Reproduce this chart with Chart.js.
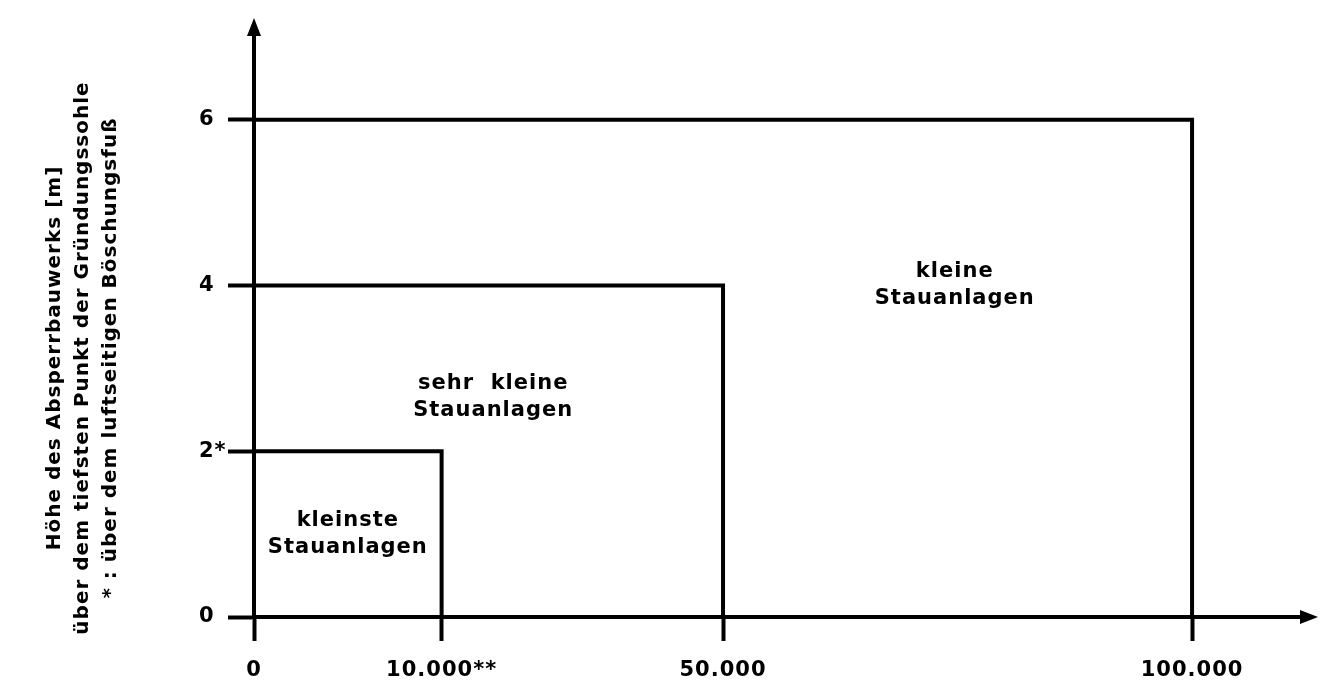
<!DOCTYPE html>
<html>
<head>
<meta charset="utf-8">
<script src="https://cdn.jsdelivr.net/npm/chart.js@4.4.1/dist/chart.umd.min.js"></script>
<style>
  html, body { margin: 0; padding: 0; background: #fff; }
  #wrap { width: 1331px; height: 690px; position: relative; }
</style>
</head>
<body>
<div id="wrap"><canvas id="c" width="1331" height="690"></canvas></div>
<script>
// ---- data ----
const volumeLabels = ['0', '10.000**', '50.000', '100.000'];   // x tick labels (reservoir volume)
const volumePositions = [0, 2, 5, 10];                          // schematic axis positions of those volumes
const heightTicks = [0, 2, 4, 6];                               // y tick values [m]
const heightLabels = ['0', '2*', '4', '6'];
const classVolumeIndex = [1, 2, 3];                             // each class bounded by this volume tick
const classHeights = [2, 4, 6];                                 // each class bounded by this height [m]
const classNames = [['kleinste', 'Stauanlagen'], ['sehr  kleine', 'Stauanlagen'], ['kleine', 'Stauanlagen']];
const classLabelX = [1.0, 2.55, 7.47];
const classLabelY = [1.0, 2.65, 4.0];
const yTitle = ['Höhe des Absperrbauwerks [m]', 'über dem tiefsten Punkt der Gründungssohle', '* : über dem luftseitigen Böschungsfuß'];

const FONT = '"DejaVu Sans", sans-serif';

const datasets = classHeights.map((h, i) => ({
  label: classNames[i].join(' '),
  data: [
    { x: 0, y: h },
    { x: volumePositions[classVolumeIndex[i]], y: h },
    { x: volumePositions[classVolumeIndex[i]], y: 0 }
  ],
  borderColor: '#000',
  borderWidth: 4,
  pointRadius: 0,
  fill: false,
  tension: 0,
  borderCapStyle: 'butt',
  borderJoinStyle: 'miter'
}));

const decor = {
  id: 'decor',
  beforeUpdate(chart) { chart.ctx.letterSpacing = '1px'; },
  beforeDraw(chart) { chart.ctx.letterSpacing = '1px'; },
  afterDraw(chart) {
    const ctx = chart.ctx;
    const xs = chart.scales.x, ys = chart.scales.y;
    const ca = chart.chartArea;
    const x0 = xs.getPixelForValue(0), y0 = ys.getPixelForValue(0);
    ctx.save();
    ctx.fillStyle = '#000';
    // arrow heads
    ctx.beginPath();
    ctx.moveTo(x0, ca.top - 10);
    ctx.lineTo(x0 - 7, ca.top + 8);
    ctx.lineTo(x0 + 7, ca.top + 8);
    ctx.closePath(); ctx.fill();
    ctx.beginPath();
    ctx.moveTo(ca.right + 10, y0);
    ctx.lineTo(ca.right - 8, y0 - 7);
    ctx.lineTo(ca.right - 8, y0 + 7);
    ctx.closePath(); ctx.fill();
    // class labels
    ctx.font = 'bold 21px ' + FONT;
    ctx.letterSpacing = '1px';
    ctx.textAlign = 'center';
    ctx.textBaseline = 'middle';
    classNames.forEach((lines, i) => {
      const cx = xs.getPixelForValue(classLabelX[i]);
      const cy = ys.getPixelForValue(classLabelY[i]);
      lines.forEach((t, j) => ctx.fillText(t, cx, cy + (j - (lines.length - 1) / 2) * 27));
    });
    // y title (rotated)
    ctx.font = 'bold 20px ' + FONT;
    ctx.translate(83, 358);
    ctx.rotate(-Math.PI / 2);
    yTitle.forEach((t, j) => ctx.fillText(t, 0, (j - 1) * 28));
    ctx.restore();
  }
};

new Chart(document.getElementById('c'), {
  type: 'line',
  data: { datasets },
  plugins: [decor],
  options: {
    responsive: false,
    animation: false,
    events: [],
    layout: { padding: { left: 199, right: 23, top: 28, bottom: 0 } },
    plugins: { legend: { display: false }, tooltip: { enabled: false }, title: { display: false } },
    scales: {
      x: {
        type: 'linear',
        position: 'bottom',
        min: 0,
        max: 11.236,
        afterFit: s => { s.height = 73; },
        afterBuildTicks: s => { s.ticks = volumePositions.map(v => ({ value: v })); },
        ticks: {
          autoSkip: false, maxRotation: 0, minRotation: 0, padding: 17, color: '#000',
          font: { family: FONT, size: 21, weight: 'bold' },
          callback: v => volumeLabels[volumePositions.indexOf(v)]
        },
        grid: { drawOnChartArea: false, drawTicks: true, tickLength: 24, tickWidth: 4, tickColor: '#000' },
        border: { display: true, color: '#000', width: 4 }
      },
      y: {
        type: 'linear',
        position: 'left',
        min: 0,
        max: 7.106,
        afterFit: s => { s.width = 55; },
        afterBuildTicks: s => { s.ticks = heightTicks.map(v => ({ value: v })); },
        ticks: {
          autoSkip: false, padding: 4, crossAlign: 'far', color: '#000',
          font: { family: FONT, size: 21, weight: 'bold' },
          callback: v => heightLabels[heightTicks.indexOf(v)]
        },
        grid: { drawOnChartArea: false, drawTicks: true, tickLength: 26, tickWidth: 4, tickColor: '#000' },
        border: { display: true, color: '#000', width: 4 }
      }
    }
  }
});
</script>
</body>
</html>
